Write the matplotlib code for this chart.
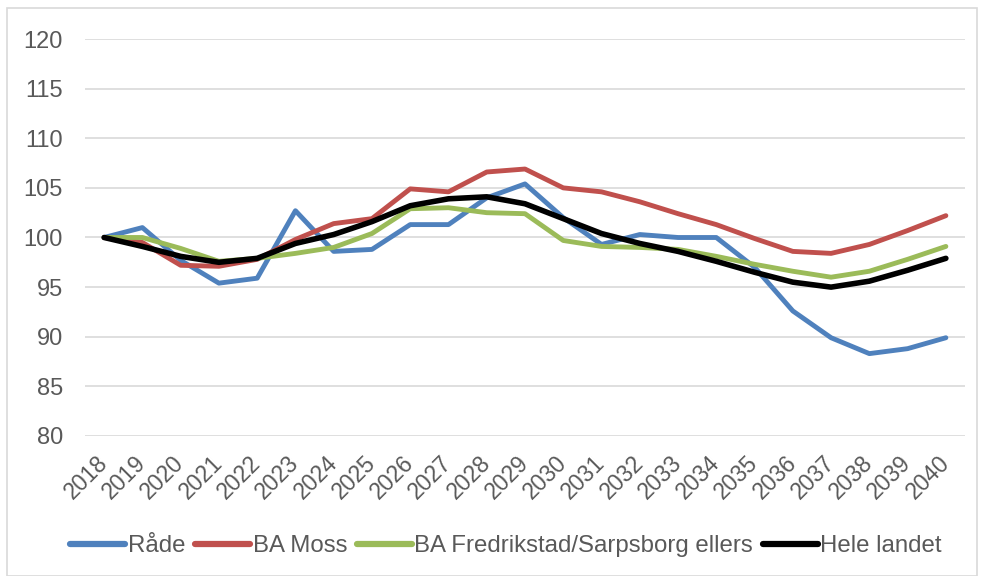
import matplotlib
matplotlib.use("Agg")
import matplotlib.pyplot as plt
from matplotlib.patches import Rectangle

plt.rcParams['font.family'] = ['Liberation Sans', 'DejaVu Sans']

years = list(range(2018, 2041))
rade = [100, 101.0, 97.7, 95.4, 95.9, 102.7, 98.6, 98.8, 101.3, 101.3, 104.0, 105.4,
        102.0, 99.3, 100.3, 100.0, 100.0, 97.0, 92.6, 89.9, 88.3, 88.8, 89.9]
moss = [100, 99.5, 97.2, 97.1, 97.8, 99.8, 101.4, 101.9, 104.9, 104.6, 106.6, 106.9,
        105.0, 104.6, 103.6, 102.4, 101.3, 99.9, 98.6, 98.4, 99.3, 100.7, 102.2]
fred = [100, 100.0, 98.9, 97.6, 97.9, 98.4, 99.0, 100.4, 102.9, 103.0, 102.5, 102.4,
        99.7, 99.1, 99.0, 98.8, 98.1, 97.3, 96.6, 96.0, 96.6, 97.8, 99.1]
hele = [100, 99.1, 98.1, 97.5, 97.9, 99.4, 100.3, 101.6, 103.2, 103.9, 104.1, 103.4,
        101.9, 100.4, 99.4, 98.6, 97.6, 96.5, 95.5, 95.0, 95.6, 96.7, 97.9]
labels = ["Råde", "BA Moss", "BA Fredrikstad/Sarpsborg ellers", "Hele landet"]
yticks = list(range(80, 121, 5))

fig = plt.figure(figsize=(9.81, 5.76), dpi=100)
ax = fig.add_axes([85/981, 1 - 436/576, (965-85)/981, (436-39)/576])

x = list(range(len(years)))
ax.plot(x, rade, color='#4F81BD', lw=3.5, label=labels[0], solid_capstyle='round')
ax.plot(x, moss, color='#C0504D', lw=3.5, label=labels[1], solid_capstyle='round')
ax.plot(x, fred, color='#9BBB59', lw=3.5, label=labels[2], solid_capstyle='round')
ax.plot(x, hele, color='black', lw=4.0, label=labels[3], solid_capstyle='round')

ax.set_ylim(80, 120)
ax.set_xlim(-0.5, len(years) - 0.5)
ax.set_yticks(yticks)
ax.set_yticklabels([str(v) for v in yticks])
ax.yaxis.grid(True, color='#D9D9D9', lw=1.2)
ax.set_axisbelow(True)
for s in ax.spines.values():
    s.set_visible(False)
ax.tick_params(axis='y', length=0, pad=16, labelsize=17, labelcolor='#595959')
ax.set_xticks(x)
ax.set_xticklabels([str(y) for y in years], rotation=45, ha='right', va='center',
                   rotation_mode='anchor')
ax.tick_params(axis='x', length=0, pad=17, labelsize=16.5, labelcolor='#595959')

leg = fig.legend(loc='center', bbox_to_anchor=(506/981, 1 - 546/576), ncol=4, frameon=False,
                 fontsize=17.3, handlelength=2.3, handletextpad=0.1, columnspacing=0.4,
                 labelcolor='#595959')
for h in leg.get_lines():
    h.set_linewidth(4.5)

fig.patches.append(Rectangle((7/981, 0), 970/981, 1 - 8/576, transform=fig.transFigure,
                             fill=False, edgecolor='#D9D9D9', lw=1.2))

fig.savefig('out.png', dpi=100, facecolor='white')
